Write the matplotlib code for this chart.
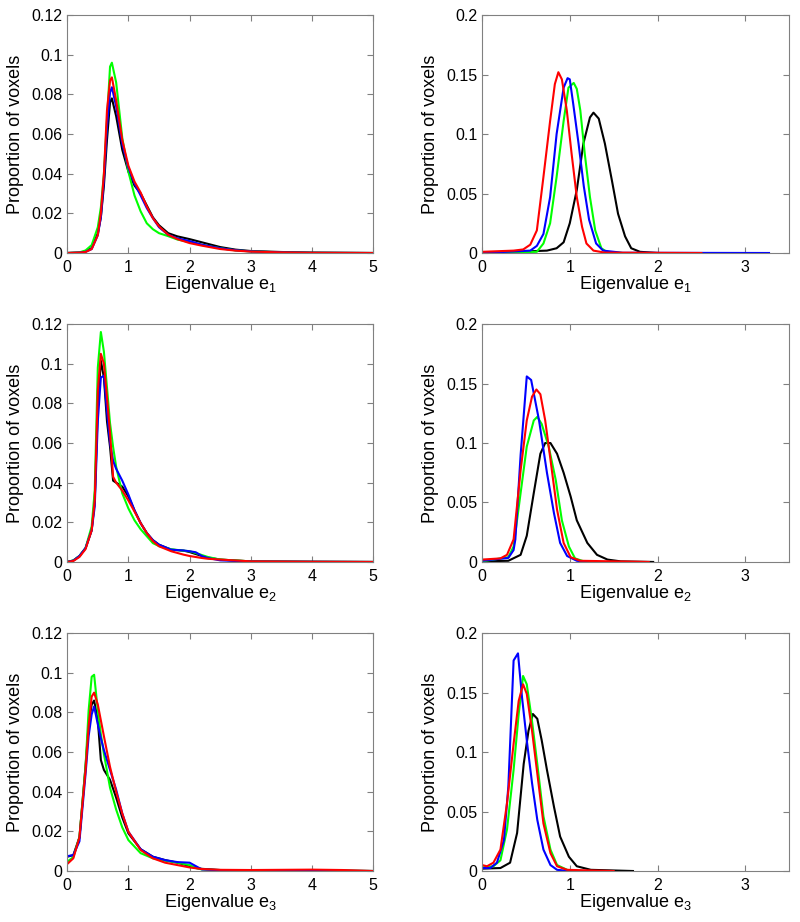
#%% Import the modules
import matplotlib
matplotlib.use("Agg")
import matplotlib.pyplot as plt

#%% Values (proportion of voxels)
# Left column : e1, e2, e3 over 0 - 5
xLeft1 = [0, 0.2, 0.3, 0.4, 0.5, 0.55, 0.6, 0.65, 0.7, 0.73, 0.8, 0.9, 1.0, 1.1,
          1.2, 1.3, 1.4, 1.5, 1.65, 1.8, 2.0, 2.2, 2.5, 2.75, 3.0, 3.5, 4.0, 5.0]
greenLeft1 = [0, 0.0003, 0.0013, 0.004, 0.013, 0.023, 0.040, 0.067, 0.094, 0.096,
              0.086, 0.058, 0.041, 0.029, 0.021, 0.015, 0.012, 0.010, 0.0085,
              0.0068, 0.0055, 0.0041, 0.0024, 0.0013, 0.0008, 0.0003, 0.0001, 0]
blackLeft1 = [0, 0.0002, 0.0008, 0.0025, 0.010, 0.018, 0.034, 0.057, 0.076, 0.078,
              0.069, 0.052, 0.041, 0.034, 0.030, 0.024, 0.018, 0.014, 0.010,
              0.0084, 0.007, 0.0054, 0.003, 0.0017, 0.001, 0.0005, 0.0002, 0]
redLeft1 = [0, 0.0002, 0.0005, 0.002, 0.009, 0.020, 0.040, 0.072, 0.087, 0.0886,
            0.077, 0.057, 0.044, 0.036, 0.0305, 0.0235, 0.0176, 0.0134, 0.0092,
            0.007, 0.005, 0.0037, 0.002, 0.0012, 0.0007, 0.0003, 0.0001, 0]
blueLeft1 = [0, 0.0002, 0.0006, 0.002, 0.009, 0.018, 0.037, 0.064, 0.081, 0.0836,
             0.074, 0.055, 0.043, 0.035, 0.029, 0.0227, 0.0176, 0.013, 0.0092,
             0.0074, 0.006, 0.0042, 0.0024, 0.0014, 0.0008, 0.0003, 0.0001, 0]

xLeft2 = [0, 0.1, 0.2, 0.3, 0.4, 0.45, 0.5, 0.55, 0.6, 0.65, 0.7, 0.75, 0.8, 0.9,
          1.0, 1.1, 1.2, 1.3, 1.4, 1.5, 1.7, 1.9, 2.0, 2.1, 2.2, 2.3, 2.5, 3.0,
          4.0, 5.0]
greenLeft2 = [0, 0.0008, 0.003, 0.007, 0.018, 0.036, 0.098, 0.116, 0.106, 0.088,
              0.070, 0.058, 0.048, 0.0346, 0.027, 0.021, 0.0165, 0.013, 0.0095,
              0.008, 0.0064, 0.0057, 0.0054, 0.0045, 0.0035, 0.0025, 0.0012,
              0.0003, 0.0001, 0]
blackLeft2 = [0, 0.0007, 0.003, 0.007, 0.016, 0.031, 0.078, 0.1015, 0.093, 0.071,
              0.058, 0.041, 0.040, 0.038, 0.033, 0.026, 0.0196, 0.0146, 0.011,
              0.0087, 0.0062, 0.0057, 0.005, 0.004, 0.003, 0.0022, 0.0012,
              0.0003, 0.0001, 0]
blueLeft2 = [0, 0.0007, 0.003, 0.007, 0.016, 0.028, 0.071, 0.093, 0.094, 0.076,
             0.060, 0.051, 0.047, 0.041, 0.034, 0.026, 0.0196, 0.0146, 0.011,
             0.0087, 0.0062, 0.0058, 0.0054, 0.0049, 0.003, 0.002, 0.0008,
             0.0002, 0.0001, 0]
redLeft2 = [0, 0.0005, 0.0025, 0.0065, 0.016, 0.031, 0.0865, 0.105, 0.100, 0.083,
            0.065, 0.043, 0.040, 0.036, 0.031, 0.0254, 0.0196, 0.0146, 0.0105,
            0.0079, 0.0054, 0.0037, 0.003, 0.0025, 0.002, 0.0016, 0.0012,
            0.0003, 0.0001, 0]

xLeft3 = [0, 0.1, 0.2, 0.3, 0.35, 0.4, 0.44, 0.5, 0.55, 0.6, 0.7, 0.8, 0.9, 1.0,
          1.2, 1.4, 1.6, 1.8, 2.0, 2.1, 2.2, 2.5, 3.0, 4.0, 4.5, 5.0]
greenLeft3 = [0.0047, 0.007, 0.017, 0.053, 0.081, 0.098, 0.099, 0.081, 0.069,
              0.059, 0.042, 0.031, 0.022, 0.0156, 0.009, 0.0064, 0.0052, 0.0042,
              0.003, 0.0015, 0.0008, 0.0004, 0.0002, 0.0003, 0.0002, 0]
redLeft3 = [0.0035, 0.0064, 0.017, 0.051, 0.073, 0.088, 0.090, 0.084, 0.076,
            0.068, 0.0525, 0.040, 0.029, 0.0198, 0.0106, 0.0064, 0.0042, 0.003,
            0.0018, 0.0014, 0.001, 0.0006, 0.0005, 0.0007, 0.0005, 0]
blackLeft3 = [0.0072, 0.008, 0.017, 0.053, 0.074, 0.084, 0.086, 0.076, 0.056,
              0.051, 0.046, 0.037, 0.027, 0.019, 0.011, 0.0072, 0.0055, 0.0042,
              0.0025, 0.0016, 0.0011, 0.0005, 0.0002, 0.0001, 0.0001, 0]
blueLeft3 = [0.0075, 0.008, 0.015, 0.049, 0.068, 0.079, 0.083, 0.074, 0.067,
             0.061, 0.051, 0.041, 0.029, 0.0198, 0.011, 0.0072, 0.0055, 0.0045,
             0.0042, 0.0025, 0.0008, 0.0004, 0.0002, 0.0001, 0.0001, 0]

# Right column : e1, e2, e3 over 0 - 3.5 (each curve has its own support)
redXRight1 = [0, 0.36, 0.47, 0.55, 0.625, 0.70, 0.776, 0.83, 0.87, 0.91, 0.966,
              1.02, 1.08, 1.14, 1.19, 1.27, 1.4, 2.5]
redYRight1 = [0.001, 0.002, 0.003, 0.007, 0.019, 0.064, 0.111, 0.142, 0.152,
              0.146, 0.120, 0.084, 0.047, 0.022, 0.008, 0.002, 0.0003, 0]
blueXRight1 = [0, 0.55, 0.625, 0.70, 0.776, 0.85, 0.93, 0.975, 1.0, 1.04, 1.1,
               1.16, 1.22, 1.3, 1.38, 1.6, 3.27]
blueYRight1 = [0, 0.002, 0.006, 0.016, 0.047, 0.100, 0.139, 0.147, 0.146, 0.125,
               0.092, 0.056, 0.028, 0.008, 0.002, 0.0002, 0]
greenXRight1 = [0, 0.625, 0.70, 0.776, 0.85, 0.93, 0.985, 1.045, 1.08, 1.12,
                1.17, 1.23, 1.29, 1.36, 1.42, 1.6]
greenYRight1 = [0, 0.001, 0.008, 0.025, 0.064, 0.111, 0.139, 0.143, 0.138, 0.120,
                0.084, 0.047, 0.019, 0.004, 0.001, 0]
blackXRight1 = [0, 0.74, 0.85, 0.93, 1.0, 1.08, 1.155, 1.23, 1.27, 1.33, 1.40,
                1.48, 1.55, 1.63, 1.70, 1.80, 2.0]
blackYRight1 = [0, 0.002, 0.004, 0.009, 0.025, 0.053, 0.092, 0.114, 0.118, 0.113,
                0.092, 0.061, 0.033, 0.014, 0.004, 0.001, 0]

blueXRight2 = [0, 0.3, 0.36, 0.38, 0.44, 0.51, 0.56, 0.65, 0.74, 0.82, 0.89,
               0.97, 1.08, 1.2]
blueYRight2 = [0.001, 0.0034, 0.010, 0.019, 0.090, 0.156, 0.153, 0.119, 0.075,
               0.041, 0.016, 0.005, 0.001, 0]
redXRight2 = [0, 0.21, 0.285, 0.36, 0.44, 0.51, 0.57, 0.62, 0.665, 0.72, 0.78,
              0.855, 0.93, 1.01, 1.12, 1.9]
redYRight2 = [0.002, 0.003, 0.006, 0.019, 0.077, 0.119, 0.139, 0.145, 0.141,
              0.119, 0.086, 0.044, 0.016, 0.004, 0.001, 0]
greenXRight2 = [0, 0.3, 0.36, 0.44, 0.51, 0.59, 0.63, 0.68, 0.76, 0.84, 0.91,
                0.99, 1.06, 1.16, 1.3]
greenYRight2 = [0.0005, 0.004, 0.013, 0.058, 0.097, 0.119, 0.122, 0.116, 0.097,
                0.069, 0.035, 0.013, 0.003, 0.0005, 0]
blackXRight2 = [0, 0.3, 0.44, 0.51, 0.59, 0.665, 0.72, 0.78, 0.855, 0.93, 1.01,
                1.08, 1.2, 1.31, 1.43, 1.58, 1.95]
blackYRight2 = [0.0005, 0.001, 0.006, 0.022, 0.058, 0.091, 0.100, 0.100, 0.091,
                0.075, 0.055, 0.035, 0.016, 0.006, 0.002, 0.0005, 0]

blueXRight3 = [0, 0.095, 0.17, 0.25, 0.30, 0.36, 0.41, 0.456, 0.51, 0.57, 0.63,
               0.70, 0.78, 0.855, 1.0]
blueYRight3 = [0.0025, 0.0025, 0.007, 0.026, 0.071, 0.177, 0.183, 0.146, 0.110,
               0.074, 0.043, 0.018, 0.005, 0.001, 0]
redXRight3 = [0, 0.057, 0.13, 0.21, 0.285, 0.36, 0.418, 0.468, 0.51, 0.57, 0.63,
              0.70, 0.78, 0.855, 0.97, 1.5]
redYRight3 = [0.005, 0.004, 0.007, 0.018, 0.057, 0.107, 0.143, 0.157, 0.149,
              0.118, 0.082, 0.040, 0.015, 0.004, 0.001, 0]
greenXRight3 = [0, 0.13, 0.21, 0.285, 0.36, 0.418, 0.468, 0.51, 0.57, 0.63, 0.70,
                0.78, 0.855, 0.97, 1.05]
greenYRight3 = [0.003, 0.004, 0.009, 0.035, 0.085, 0.132, 0.164, 0.157, 0.126,
                0.090, 0.046, 0.018, 0.005, 0.001, 0]
blackXRight3 = [0, 0.21, 0.32, 0.40, 0.475, 0.53, 0.58, 0.63, 0.68, 0.74, 0.82,
                0.89, 0.99, 1.08, 1.24, 1.72]
blackYRight3 = [0.002, 0.0025, 0.007, 0.032, 0.090, 0.118, 0.132, 0.128, 0.110,
                0.085, 0.054, 0.029, 0.012, 0.004, 0.001, 0]

# Axis ticks and labels
leftXTicks = [0, 1, 2, 3, 4, 5]
leftYTicks = [0, 0.02, 0.04, 0.06, 0.08, 0.1, 0.12]
leftYLabels = ["0", "0.02", "0.04", "0.06", "0.08", "0.1", "0.12"]
rightXTicks = [0, 1, 2, 3]
rightYTicks = [0, 0.05, 0.1, 0.15, 0.2]
rightYLabels = ["0", "0.05", "0.1", "0.15", "0.2"]
xLabels = ["Eigenvalue e$_1$", "Eigenvalue e$_2$", "Eigenvalue e$_3$"]

#%% Figure setup - MATLAB like look
plt.rcParams["font.family"] = ["Liberation Sans", "DejaVu Sans"]
plt.rcParams["mathtext.default"] = "regular"

fig = plt.figure(figsize=(8, 9.22), dpi=100)
frameCol = "#808080"
lw = 1.5

rowBottoms = [0.7256, 0.3905, 0.0553]
axH = 0.258

leftData = [(xLeft1, blackLeft1, greenLeft1, blueLeft1, redLeft1),
            (xLeft2, blackLeft2, greenLeft2, blueLeft2, redLeft2),
            (xLeft3, blackLeft3, greenLeft3, blueLeft3, redLeft3)]
rightData = [((blackXRight1, blackYRight1), (greenXRight1, greenYRight1),
              (blueXRight1, blueYRight1), (redXRight1, redYRight1)),
             ((blackXRight2, blackYRight2), (greenXRight2, greenYRight2),
              (blueXRight2, blueYRight2), (redXRight2, redYRight2)),
             ((blackXRight3, blackYRight3), (greenXRight3, greenYRight3),
              (blueXRight3, blueYRight3), (redXRight3, redYRight3))]
colours = ["k", "#00ff00", "#0000ff", "#ff0000"]


def style_axes(ax, xlab):
    for sp in ax.spines.values():
        sp.set_color(frameCol)
        sp.set_linewidth(0.8)
    ax.tick_params(direction="in", length=4, width=0.8, color=frameCol,
                   top=True, right=True, labelsize=11.5)
    ax.tick_params(axis="x", pad=5)
    ax.set_xlabel(xlab, fontsize=13, labelpad=-1)
    ax.set_ylabel("Proportion of voxels", fontsize=13, labelpad=5)


for row in range(3):
    # left panel
    ax = fig.add_axes([0.084, rowBottoms[row], 0.3825, axH])
    x, k, g, b, r = leftData[row]
    for y, c in zip((k, g, b, r), colours):
        ax.plot(x, y, color=c, lw=lw)
    ax.set_xlim(0, 5)
    ax.set_ylim(0, 0.12)
    ax.set_xticks(leftXTicks)
    ax.set_yticks(leftYTicks)
    ax.set_yticklabels(leftYLabels)
    style_axes(ax, xLabels[row])

    # right panel
    ax = fig.add_axes([0.6025, rowBottoms[row], 0.384, axH])
    for (xs, ys), c in zip(rightData[row], colours):
        ax.plot(xs, ys, color=c, lw=lw)
    ax.set_xlim(0, 3.5)
    ax.set_ylim(0, 0.2)
    ax.set_xticks(rightXTicks)
    ax.set_yticks(rightYTicks)
    ax.set_yticklabels(rightYLabels)
    style_axes(ax, xLabels[row])

fig.savefig("out.png", dpi=100)
